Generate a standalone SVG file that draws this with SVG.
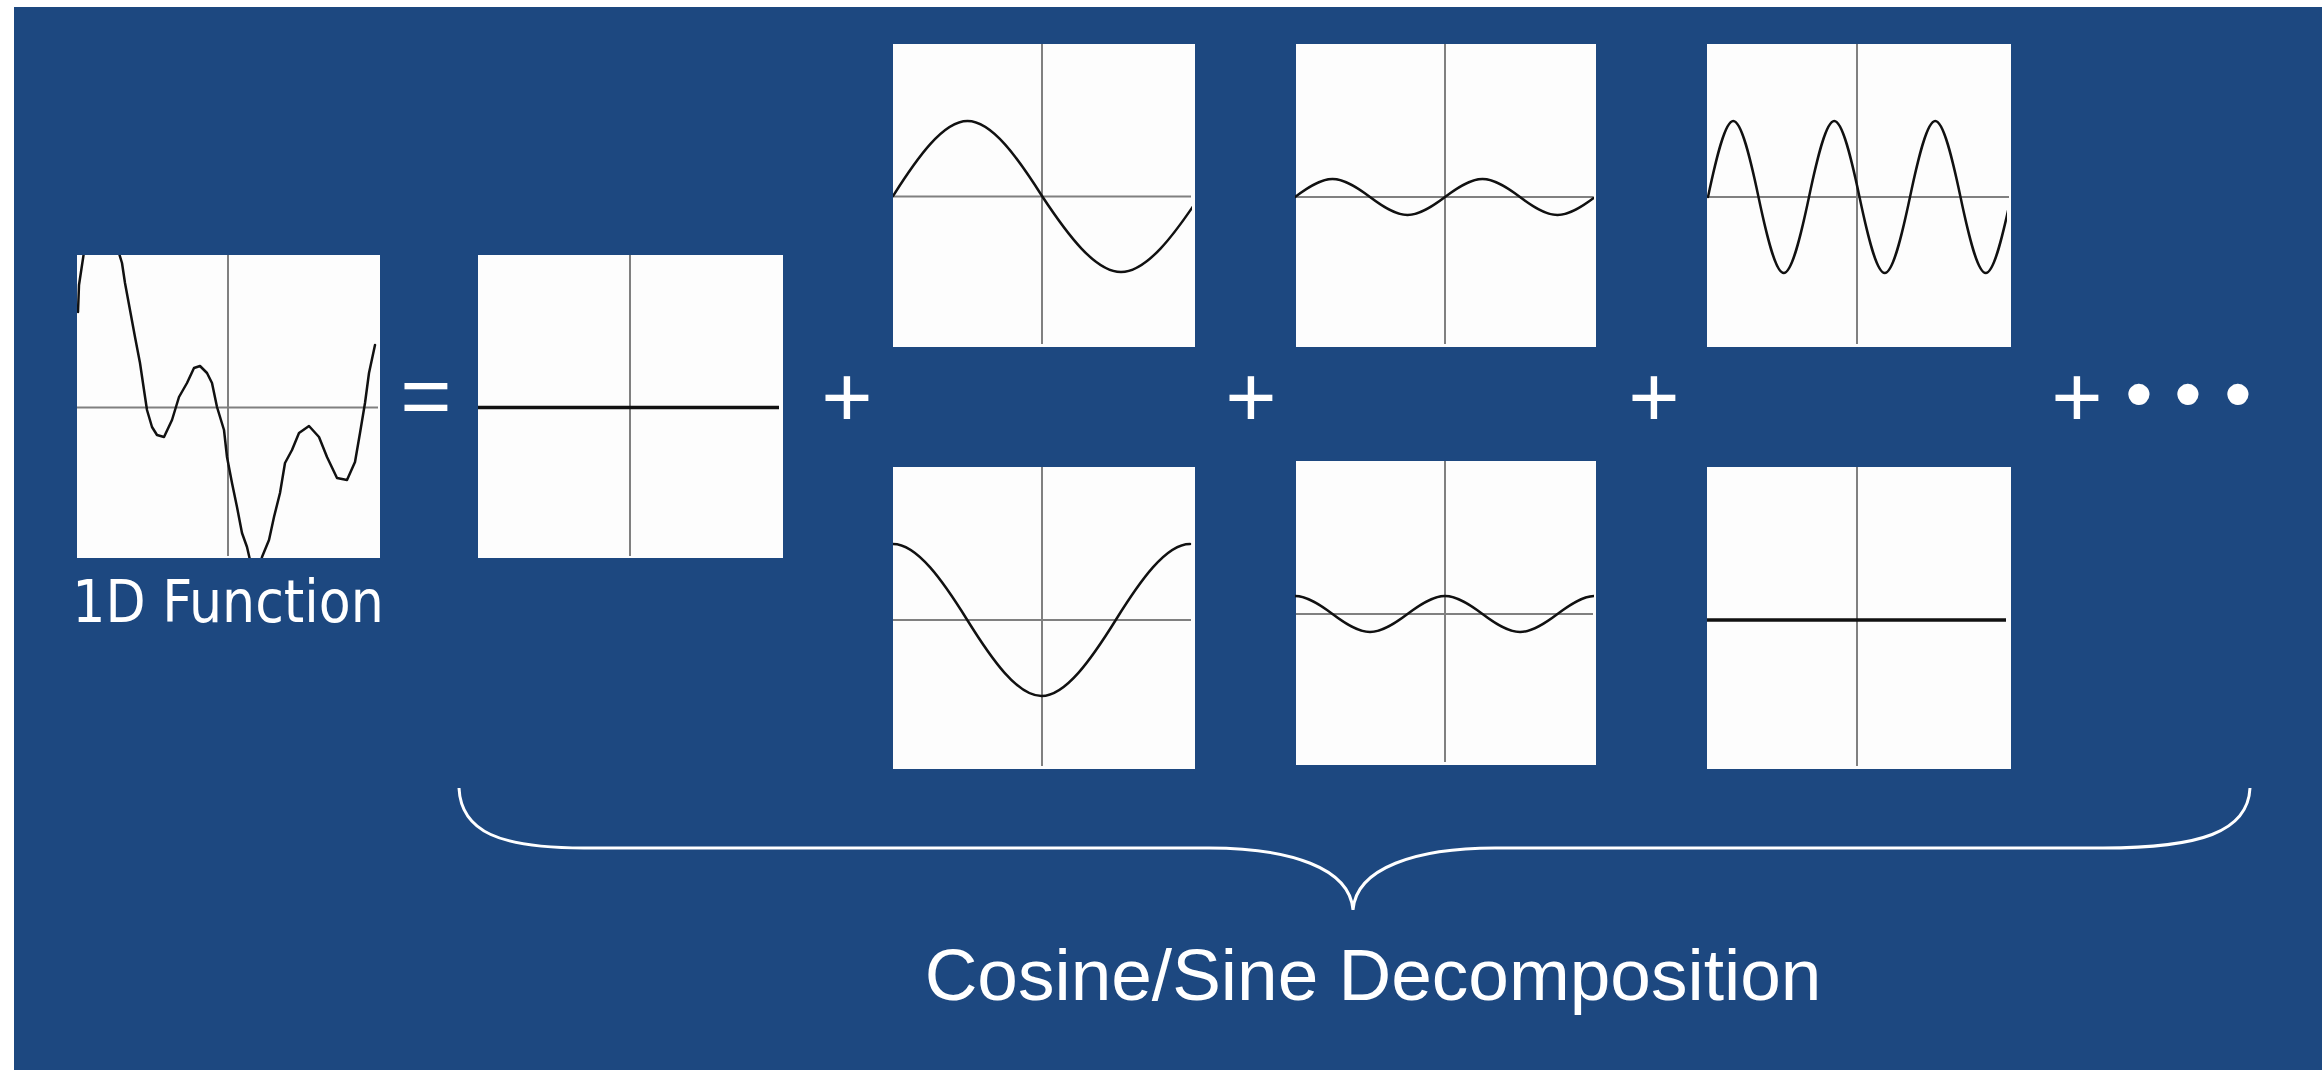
<svg xmlns="http://www.w3.org/2000/svg" width="2322" height="1070" viewBox="0 0 2322 1070">
<style>
.panel{fill:#fdfdfd;}
.axis{stroke:#808080;stroke-width:2;fill:none;}
.curve{stroke:#111;stroke-width:2.5;fill:none;stroke-linejoin:round;stroke-linecap:round;}
.flat{stroke:#111;stroke-width:3.5;fill:none;}
.op{font-family:"Liberation Sans",Arial,sans-serif;font-size:88px;fill:#fff;text-anchor:middle;}
.dot{font-family:"Liberation Sans",Arial,sans-serif;font-size:78px;fill:#fff;text-anchor:middle;}
.lbl{font-family:"DejaVu Sans Condensed","DejaVu Sans",sans-serif;font-stretch:condensed;font-size:58px;fill:#fff;text-anchor:middle;}
.title{font-family:"Liberation Sans",Arial,sans-serif;font-size:73px;fill:#fff;text-anchor:middle;}
.brace{stroke:#fff;stroke-width:3;fill:none;}
</style>
<defs>
<clipPath id="c1"><rect x="77" y="255" width="303" height="303"/></clipPath>
<clipPath id="cA"><rect x="893" y="44" width="299" height="303"/></clipPath>
<clipPath id="cB"><rect x="1295" y="44" width="299" height="303"/></clipPath>
<clipPath id="cC"><rect x="1707" y="44" width="300" height="303"/></clipPath>
<clipPath id="cD"><rect x="893" y="467" width="300" height="302"/></clipPath>
<clipPath id="cE"><rect x="1295" y="461" width="299" height="304"/></clipPath>
</defs>
<rect x="14" y="7" width="2308" height="1063" fill="#1d4880"/>

<g id="func1d">
<rect class="panel" x="77" y="255" width="303" height="303"/>
<line class="axis" x1="228" y1="255" x2="228" y2="556"/>
<line class="axis" x1="77" y1="407.5" x2="378" y2="407.5" stroke-width="3"/>
<polyline class="curve" clip-path="url(#c1)" points="78,312 79,285 84,252 100,215 118,250 122,263 125,283 130,310 135,337 140,363 144,390 147,410 152,427 157,435 164,437 172,420 179,397 187,383 194,368 200,366 207,373 212,383 217,407 224,430 227,457 232,483 237,507 242,533 247,547 250,560 254,572 258,572 262,557 269,540 274,517 280,493 285,463 292,450 299,433 309,426 319,437 327,457 337,478 347,480 355,462 360,433 365,403 369,373 375,345"/>
<text class="lbl" x="228" y="622">1D Function</text>
</g>

<g id="eq"><text class="op" x="426" y="426">=</text></g>

<g id="dc">
<rect class="panel" x="478" y="255" width="305" height="303"/>
<line class="axis" x1="630" y1="255" x2="630" y2="556"/>
<line class="flat" x1="478" y1="407.5" x2="779" y2="407.5"/>
</g>

<g id="plus1"><text class="op" x="847" y="427">+</text></g>

<g id="sin1">
<rect class="panel" x="893" y="44" width="302" height="303"/>
<line class="axis" x1="1042" y1="44" x2="1042" y2="344"/>
<line class="axis" x1="893" y1="196.5" x2="1191" y2="196.5"/>
<path class="curve" clip-path="url(#cA)" d="M893,196 C917.3,157.6 943.2,121 967.5,121 C991.8,121 1017.7,157.6 1042,196 C1067.7,234.9 1095.3,272 1121,272 C1146.7,272 1174.3,234.9 1200,196"/>
</g>

<g id="cos1">
<rect class="panel" x="893" y="467" width="302" height="302"/>
<line class="axis" x1="1042" y1="467" x2="1042" y2="766"/>
<line class="axis" x1="893" y1="620" x2="1191" y2="620"/>
<path class="curve" clip-path="url(#cD)" d="M893,544 C917.2,544 943.05,581.1 967.25,620 C991.45,658.9 1017.3,696 1041.5,696 C1065.7,696 1091.55,658.9 1115.75,620 C1139.95,581.1 1165.8,544 1190,544"/>
</g>

<g id="plus2"><text class="op" x="1251" y="427">+</text></g>

<g id="sin2">
<rect class="panel" x="1296" y="44" width="300" height="303"/>
<line class="axis" x1="1445" y1="44" x2="1445" y2="344"/>
<line class="axis" x1="1296" y1="197" x2="1593" y2="197"/>
<path class="curve" clip-path="url(#cB)" d="M1295,197 C1307.2,187.8 1320.3,179 1332.5,179 C1344.7,179 1357.8,187.8 1370,197 C1382.2,206.2 1395.3,215 1407.5,215 C1419.7,215 1432.8,206.2 1445,197 C1457.2,187.8 1470.3,179 1482.5,179 C1494.7,179 1507.8,187.8 1520,197 C1532.2,206.2 1545.3,215 1557.5,215 C1569.7,215 1582.8,206.2 1595,197"/>
</g>

<g id="cos2">
<rect class="panel" x="1296" y="461" width="300" height="304"/>
<line class="axis" x1="1445" y1="461" x2="1445" y2="762"/>
<line class="axis" x1="1296" y1="614" x2="1593" y2="614"/>
<path class="curve" clip-path="url(#cE)" d="M1295,596 C1307.2,596 1320.3,604.8 1332.5,614 C1344.7,623.2 1357.8,632 1370,632 C1382.2,632 1395.3,623.2 1407.5,614 C1419.7,604.8 1432.8,596 1445,596 C1457.2,596 1470.3,604.8 1482.5,614 C1494.7,623.2 1507.8,632 1520,632 C1532.2,632 1545.3,623.2 1557.5,614 C1569.7,604.8 1582.8,596 1595,596"/>
</g>

<g id="plus3"><text class="op" x="1654" y="427">+</text></g>

<g id="sin3">
<rect class="panel" x="1707" y="44" width="304" height="303"/>
<line class="axis" x1="1857" y1="44" x2="1857" y2="344"/>
<line class="axis" x1="1707" y1="197" x2="2009" y2="197"/>
<path class="curve" clip-path="url(#cC)" d="M1708,197 C1716.2,158.1 1725,121 1733.25,121 C1741.5,121 1750.3,158.1 1758.5,197 C1766.7,235.9 1775.5,273 1783.75,273 C1792,273 1800.8,235.9 1809,197 C1817.2,158.1 1826,121 1834.25,121 C1842.5,121 1851.3,158.1 1859.5,197 C1867.7,235.9 1876.5,273 1884.75,273 C1893,273 1901.8,235.9 1910,197 C1918.2,158.1 1927,121 1935.25,121 C1943.5,121 1952.3,158.1 1960.5,197 C1968.7,235.9 1977.5,273 1985.75,273 C1994,273 2002.8,235.9 2011,197"/>
</g>

<g id="cos3">
<rect class="panel" x="1707" y="467" width="304" height="302"/>
<line class="axis" x1="1857" y1="467" x2="1857" y2="766"/>
<line class="flat" x1="1707" y1="620" x2="2006" y2="620"/>
</g>

<g id="more"><text class="op" x="2077" y="427">+</text><text class="dot" x="2139" y="420">•</text><text class="dot" x="2188" y="420">•</text><text class="dot" x="2238" y="420">•</text></g>

<g id="connectors">
<path class="brace" d="M459,788 C461,832 500,848 584,848 L1209,848 C1290,848 1350,868 1353,910 C1356,868 1416,848 1495,848 L2103,848 C2200,848 2248,832 2250,788"/>
</g>

<g id="caption"><text class="title" x="1373" y="1000">Cosine/Sine Decomposition</text></g>
</svg>
